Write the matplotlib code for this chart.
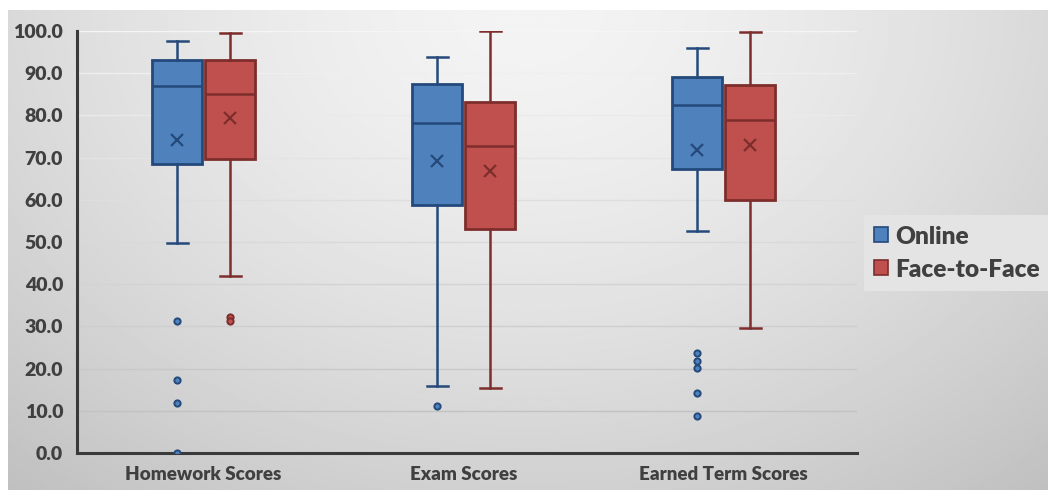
import numpy as np
import matplotlib
matplotlib.use("Agg")
import matplotlib.pyplot as plt
from matplotlib.patches import Patch

# Summary statistics per group (Online vs Face-to-Face)
categories = ["Homework Scores", "Exam Scores", "Earned Term Scores"]
series = ["Online", "Face-to-Face"]

online_whislo = [49.8, 15.9, 52.6]
online_q1 = [68.5, 58.8, 67.3]
online_med = [87.0, 78.2, 82.5]
online_mean = [74.2, 69.2, 71.8]
online_q3 = [93.1, 87.4, 89.1]
online_whishi = [97.6, 93.8, 96.0]
online_fliers = [[31.3, 17.3, 11.8, 0.0], [11.1], [23.7, 21.8, 20.1, 14.2, 8.8]]

f2f_whislo = [41.9, 15.4, 29.6]
f2f_q1 = [69.7, 53.1, 60.0]
f2f_med = [85.1, 72.7, 78.9]
f2f_mean = [79.4, 66.8, 73.0]
f2f_q3 = [93.1, 83.2, 87.2]
f2f_whishi = [99.5, 100.0, 99.8]
f2f_fliers = [[32.3, 31.3], [], []]

yticks = np.arange(0, 101, 10)

fill_colors = ["#4f81bd", "#c0504d"]
edge_colors = ["#24497a", "#7d2e2c"]
flier_fill = ["#4f81bd", "#c0504d"]

W, H = 1048, 490
fig = plt.figure(figsize=(W / 100, H / 100), dpi=100)
fig.patch.set_facecolor("white")

# soft grey radial background panel
bg = fig.add_axes([8 / W, 0, 1 - 8 / W, 1 - 10 / H])
yy, xx = np.mgrid[0:1:300j, 0:1:600j]
r = np.sqrt(((xx - 0.5) / 0.72) ** 2 + ((yy - 0.0) / 1.2) ** 2)
shade = 0.955 - 0.18 * np.clip(r, 0, 1.2) ** 1.5
bg.imshow(shade, cmap="gray", vmin=0, vmax=1, aspect="auto",
          extent=[0, 1, 1, 0], interpolation="bilinear")
bg.set_axis_off()

ax = fig.add_axes([77 / W, 1 - 453 / H, (857 - 77) / W, (453 - 31) / H])
ax.patch.set_alpha(0)

for yv in yticks[1:]:
    t = yv / 100.0
    g = 0.74 + 0.22 * t
    ax.axhline(yv, color=(g, g, g), lw=1.0, zorder=0.5)

groups = [
    (online_whislo, online_q1, online_med, online_mean, online_q3, online_whishi, online_fliers),
    (f2f_whislo, f2f_q1, f2f_med, f2f_mean, f2f_q3, f2f_whishi, f2f_fliers),
]
offsets = [-0.102, 0.102]
x = np.arange(len(categories))

for s, (wl, q1, med, mean, q3, wh, fl) in enumerate(groups):
    stats = []
    for i in range(len(categories)):
        stats.append(dict(whislo=wl[i], q1=q1[i], med=med[i], mean=mean[i],
                          q3=q3[i], whishi=wh[i], fliers=fl[i]))
    ec = edge_colors[s]
    ax.bxp(stats, positions=x + offsets[s], widths=0.19, patch_artist=True,
           showmeans=True, showfliers=True, manage_ticks=False,
           boxprops=dict(facecolor=fill_colors[s], edgecolor=ec, linewidth=2),
           medianprops=dict(color=ec, linewidth=1.8),
           whiskerprops=dict(color=ec, linewidth=1.8),
           capprops=dict(color=ec, linewidth=1.8),
           capwidths=0.08,
           meanprops=dict(marker="x", markeredgecolor=ec, markersize=9,
                          markeredgewidth=1.6),
           flierprops=dict(marker="o", markerfacecolor=flier_fill[s],
                           markeredgecolor=ec, markersize=4.5,
                           markeredgewidth=1.4),
           zorder=3)

ax.set_xlim(-0.487, 2.513)
ax.set_ylim(0, 100)
ax.set_yticks(yticks)
ax.set_yticklabels([f"{v:.1f}" for v in yticks])
ax.set_xticks(x)
ax.set_xticklabels(categories)

txt = "#404040"
for lab in ax.get_yticklabels():
    lab.set_fontfamily("Lato")
    lab.set_fontweight("heavy")
    lab.set_fontsize(14)
    lab.set_color(txt)
for lab in ax.get_xticklabels():
    lab.set_fontfamily("Lato")
    lab.set_fontweight("heavy")
    lab.set_fontsize(13.5)
    lab.set_color(txt)
ax.tick_params(axis="both", length=0)
ax.tick_params(axis="y", pad=10)
ax.tick_params(axis="x", pad=9)

for side in ["top", "right"]:
    ax.spines[side].set_visible(False)
for side in ["left", "bottom"]:
    ax.spines[side].set_color("#3a3a3a")
    ax.spines[side].set_linewidth(2.2)

handles = [Patch(facecolor=fill_colors[k], edgecolor=edge_colors[k], linewidth=1.2)
           for k in range(2)]
leg = fig.legend(handles, series, loc="center left",
                 bbox_to_anchor=(864 / W, 1 - 253 / H),
                 frameon=True, fancybox=False, borderpad=0.42,
                 handlelength=0.55, handleheight=0.55, handletextpad=0.3,
                 labelspacing=0.45, borderaxespad=0,
                 prop=dict(family="Lato", weight="heavy", size=17.6))
leg.get_frame().set_facecolor("#e4e4e4")
leg.get_frame().set_edgecolor("none")
leg.get_frame().set_alpha(1)
for t in leg.get_texts():
    t.set_color(txt)

fig.savefig("out.png", dpi=100, facecolor=fig.get_facecolor())
